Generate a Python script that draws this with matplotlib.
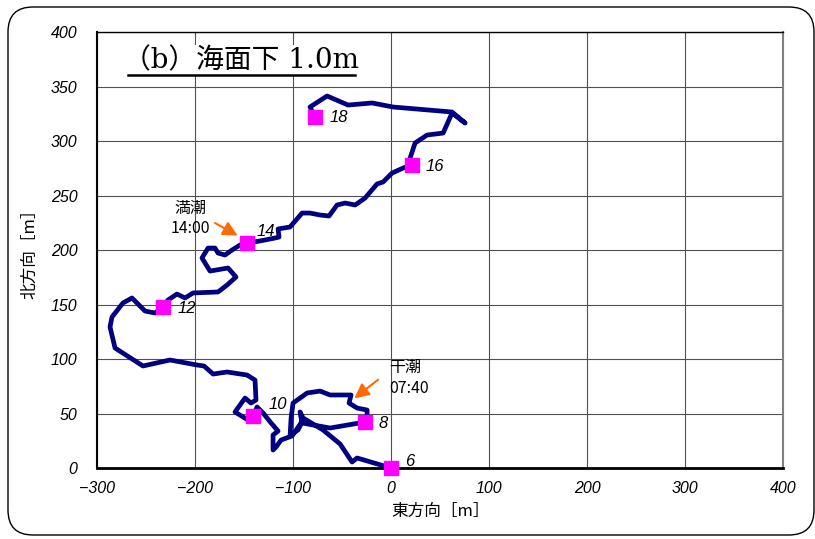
import matplotlib.pyplot as plt
from matplotlib.patches import FancyBboxPatch

# 軌跡データ（東方向, 北方向）[m]
east = [0, -34.7, -39.8, -52.0, -69.4, -89.8, -92.9, -90.8, -62.2, -26.5,
        -24.5, -24.5, -34.7, -42.9, -40.8, -62.2, -72.4, -85.7, -100.0, -102.0,
        -103.0, -94.9, -89.8, -101.0, -112.2, -117.3, -120.4, -120.4, -115.3, -122.4,
        -130.6, -136.7, -140.8, -145.9, -159.2, -149.0, -142.9, -137.8, -138.8, -146.9,
        -167.3, -181.6, -190.8, -198.0, -225.5, -253.1, -281.6, -286.7, -284.7, -273.5,
        -264.3, -251.0, -240.8, -232.7, -227.6, -218.4, -210.2, -202.0, -176.5, -167.3,
        -158.2, -166.3, -184.7, -192.9, -186.7, -179.6, -176.5, -169.4, -162.2, -154.1,
        -146.9, -133.7, -118.4, -114.3, -115.3, -103.1, -90.8, -82.7, -72.4, -63.3,
        -55.1, -46.9, -36.7, -26.5, -14.3, -8.2, 1.0, 12.2, 21.4, 19.4,
        24.5, 36.7, 53.1, 62.2, 75.5, 62.2, 2.0, -19.4, -43.9, -65.3,
        -82.7, -77.6]
north = [0, 9.2, 5.5, 22.0, 34.9, 45.9, 51.4, 41.3, 36.7, 42.2,
         45.9, 53.2, 55.0, 59.6, 67.0, 67.0, 70.6, 68.8, 59.6, 45.9,
         30.3, 34.9, 44.0, 29.4, 25.7, 19.3, 16.5, 30.3, 33.9, 41.3,
         50.5, 56.0, 47.7, 44.0, 51.4, 64.2, 59.6, 62.4, 80.7, 85.3,
         88.1, 86.2, 93.6, 94.5, 99.1, 93.6, 110.1, 129.4, 138.5, 151.4,
         156.0, 144.0, 142.2, 147.7, 154.1, 159.6, 156.0, 160.6, 161.5, 167.9,
         175.2, 183.5, 180.7, 192.7, 201.8, 201.8, 197.2, 195.4, 200.0, 204.6,
         206.4, 208.3, 211.0, 211.9, 219.3, 221.1, 233.9, 233.9, 232.1, 231.2,
         241.3, 243.1, 241.3, 247.7, 260.6, 262.4, 270.6, 275.2, 278.0, 284.4,
         298.2, 305.5, 307.3, 325.7, 316.5, 326.6, 331.2, 334.9, 333.0, 341.3,
         331.2, 322.0]

# 毎時マーカー
hour_labels = ['6', '8', '10', '12', '14', '16', '18']
hour_east = [0, -26.5, -140.8, -232.7, -146.9, 21.4, -77.6]
hour_north = [0, 42.2, 47.7, 147.7, 206.4, 278.0, 322.0]
label_off = [(19, 7), (18, -1), (25, 12), (24, -1), (19, 12), (23, -2), (24, 0)]

jp = ['Noto Sans CJK JP', 'DejaVu Sans']

fig = plt.figure(figsize=(8.15, 5.39), dpi=100)
ax = fig.add_axes([0.119, 0.1317, 0.842, 0.8089])

# 外枠（角丸）
frame = FancyBboxPatch((0.08, 0.04), 8.06, 5.28, boxstyle='round,pad=0,rounding_size=0.25',
                       transform=fig.dpi_scale_trans, fill=False, edgecolor='black', lw=1.0)
fig.patches.append(frame)

ax.plot(east, north, color='#000080', lw=3.4, solid_joinstyle='round',
        solid_capstyle='round', zorder=3)
ax.scatter(hour_east, hour_north, marker='s', s=115, color='#FF00FF', zorder=4,
           clip_on=False)
for lab, x, y, off in zip(hour_labels, hour_east, hour_north, label_off):
    ax.annotate(lab, (x, y), xytext=off, textcoords='offset pixels', ha='center',
                va='center', fontsize=12, style='italic', family='Liberation Sans')

# 満潮・干潮の矢印
arrow = dict(arrowstyle='-|>', color='#FF6A00', lw=1.5, mutation_scale=22)
ax.annotate('', xy=(-154, 212), xytext=(-182, 226), arrowprops=arrow)
ax.text(-205, 229, '満潮\n14:00', ha='center', va='center', fontsize=11.5,
        family=jp, linespacing=1.25)
ax.annotate('', xy=(-39.8, 62.4), xytext=(-11, 82.6), arrowprops=arrow)
ax.text(-2, 82.6, '干潮\n07:40', ha='left', va='center', fontsize=11.5,
        family=jp, linespacing=1.25)

# タイトル
ax.text(-153, 374, '（b）海面下 1.0m', ha='center', va='center', fontsize=20,
        family=['DejaVu Serif', 'Noto Sans CJK JP'],
        bbox=dict(facecolor='white', edgecolor='none', pad=1))
ax.plot([-268, -37], [361, 361], color='black', lw=1.8, zorder=5)

ax.set_xlim(-300, 400)
ax.set_ylim(0, 400)
ax.set_xticks(range(-300, 401, 100))
ax.set_yticks(range(0, 401, 50))
ax.grid(True, color='#505050', lw=0.8)
ax.set_axisbelow(True)
ax.tick_params(length=0, pad=9)
for t in ax.get_xticklabels() + ax.get_yticklabels():
    t.set_family('Liberation Sans')
    t.set_style('italic')
    t.set_fontsize(11.5)
ax.tick_params(axis='y', pad=14)

ax.spines['bottom'].set_linewidth(2.0)
ax.spines['left'].set_linewidth(1.5)
ax.spines['top'].set_linewidth(1.0)
ax.spines['right'].set_linewidth(1.5)
ax.spines['right'].set_color('#808080')

ax.set_xlabel('東方向［m］', family=jp, fontsize=12, style='italic', labelpad=5)
ax.set_ylabel('北方向［m］', family=jp, fontsize=12, style='italic', labelpad=9)

fig.savefig('out.png', dpi=100)
